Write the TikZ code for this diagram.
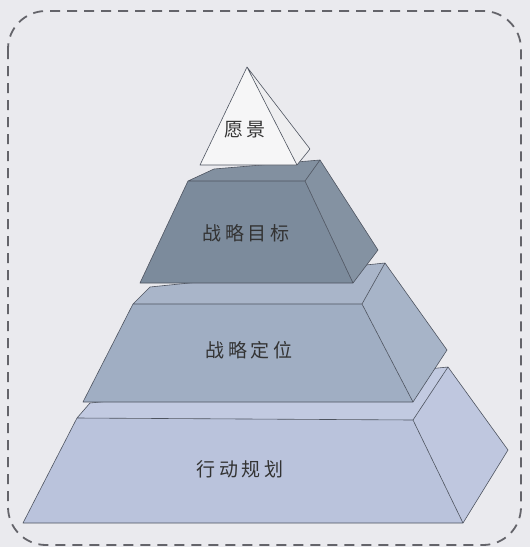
\documentclass[tikz,border=0pt]{standalone}
\usepackage{fontspec}
\newfontfamily\cjk[LetterSpace=18]{Noto Sans CJK SC}
\definecolor{bgc}{RGB}{234,234,238}
\definecolor{edgec}{RGB}{78,84,96}
\definecolor{topc}{RGB}{246,246,247}
\definecolor{topside}{RGB}{238,238,240}
\definecolor{lvAfront}{RGB}{124,139,156}
\definecolor{lvAside}{RGB}{132,146,162}
\definecolor{lvAtop}{RGB}{130,144,160}
\definecolor{lvBfront}{RGB}{160,174,195}
\definecolor{lvBside}{RGB}{167,180,200}
\definecolor{lvBtop}{RGB}{169,181,201}
\definecolor{lvCfront}{RGB}{186,195,220}
\definecolor{lvCside}{RGB}{191,199,223}
\definecolor{lvCtop}{RGB}{194,202,225}
\definecolor{borderc}{RGB}{100,100,106}
\tikzset{
  face/.style={draw=edgec, line width=0.6pt, line join=round},
  lbl/.style={font=\cjk\fontsize{19}{21}\selectfont, text=black!80},
}
\begin{document}
\begin{tikzpicture}[x=1pt,y=-1pt]
\useasboundingbox (0,0) rectangle (530,547);
\fill[bgc] (0,0) rectangle (530,547);
\draw[borderc, line width=1.8pt, dash pattern=on 10pt off 7pt, rounded corners=38pt] (8,11) rectangle (521,545);

% level 4 (bottom)
\coordinate (d1) at (23,523);
\coordinate (d2) at (463,523);
\coordinate (d3) at (413,420);
\coordinate (d4) at (77,418);
\coordinate (d5) at (90,403);
\coordinate (d6) at (448,367);
\coordinate (d7) at (508,450);
\fill[fill=lvCtop] (d4) -- (d5) -- (d6) -- (d3) -- cycle;
\fill[fill=lvCside] (d3) -- (d6) -- (d7) -- (d2) -- cycle;
\fill[fill=lvCfront] (d1) -- (d2) -- (d3) -- (d4) -- cycle;
\draw[face] (d4) -- (d5) -- (d6) -- (d7) -- (d2) -- (d1) -- cycle (d4) -- (d3) -- (d2) (d3) -- (d6);
\node[lbl] (t4) at (240,469) {行动规划};

% level 3
\coordinate (c1) at (83,402);
\coordinate (c2) at (413,402);
\coordinate (c3) at (362,304);
\coordinate (c4) at (133,304);
\coordinate (c5) at (150,287);
\coordinate (c6) at (385,263);
\coordinate (c7) at (447,350);
\fill[fill=lvBtop] (c4) -- (c5) -- (c6) -- (c3) -- cycle;
\fill[fill=lvBside] (c3) -- (c6) -- (c7) -- (c2) -- cycle;
\fill[fill=lvBfront] (c1) -- (c2) -- (c3) -- (c4) -- cycle;
\draw[face] (c4) -- (c5) -- (c6) -- (c7) -- (c2) -- (c1) -- cycle (c4) -- (c3) -- (c2) (c3) -- (c6);
\node[lbl] (t3) at (249,350) {战略定位};

% level 2
\coordinate (b1) at (140,283);
\coordinate (b2) at (353,283);
\coordinate (b3) at (305,181);
\coordinate (b4) at (188,181);
\coordinate (b5) at (214,169);
\coordinate (b6) at (320,160);
\coordinate (b7) at (378,250);
\fill[fill=lvAtop] (b4) -- (b5) -- (b6) -- (b3) -- cycle;
\fill[fill=lvAside] (b3) -- (b6) -- (b7) -- (b2) -- cycle;
\fill[fill=lvAfront] (b1) -- (b2) -- (b3) -- (b4) -- cycle;
\draw[face] (b4) -- (b5) -- (b6) -- (b7) -- (b2) -- (b1) -- cycle (b4) -- (b3) -- (b2) (b3) -- (b6);
\node[lbl] (t2) at (246,233) {战略目标};

% top pyramid
\coordinate (a0) at (247,67);
\coordinate (a1) at (200,165);
\coordinate (a2) at (297,165);
\coordinate (a3) at (310,149);
\fill[fill=topside] (a0) -- (a2) -- (a3) -- cycle;
\fill[fill=topc] (a0) -- (a1) -- (a2) -- cycle;
\draw[face] (a0) -- (a1) -- (a2) -- cycle (a0) -- (a3) -- (a2);
\node[lbl] (t1) at (245,130) {愿景};
\end{tikzpicture}
\end{document}
